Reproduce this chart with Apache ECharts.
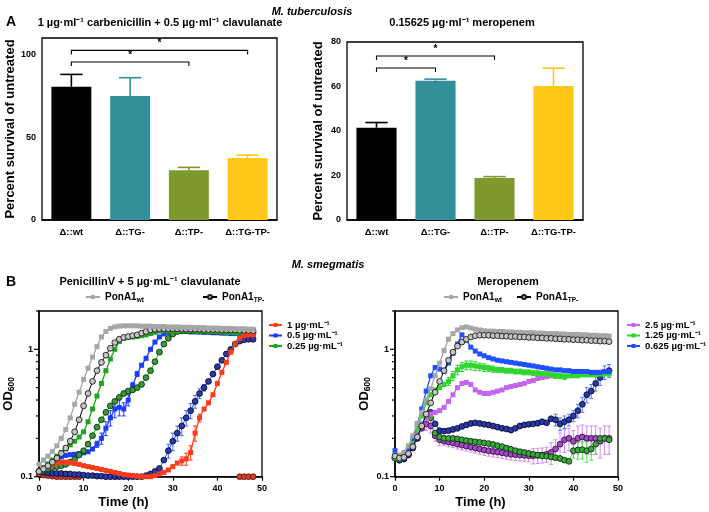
<!DOCTYPE html>
<html><head><meta charset="utf-8">
<script src="https://cdn.jsdelivr.net/npm/echarts@6/dist/echarts.min.js"></script>
<style>html,body{margin:0;padding:0;background:#fff}#c{width:709px;height:512px}</style>
</head><body><div id="c"></div>
<script>
const FONT = '"Liberation Sans", Arial, Helvetica, sans-serif';

// ---------- Panel A data ----------
const strains = ['Δ::wt', 'Δ::TG-', 'Δ::TP-', 'Δ::TG-TP-'];
const carbMean = [80.5, 75, 30, 37.5];
const carbErrTop = [88, 86, 31.8, 39.2];
const meroMean = [41.5, 62.6, 18.9, 60.2];
const meroErrTop = [43.8, 63.3, 19.5, 68.2];
const carbSig = [[0, 2, 95.5], [0, 3, 102.5]];
const meroSig = [[0, 1, 68.3], [0, 2, 73.7]];
const carbTicks = [0, 50, 100];
const meroTicks = [0, 20, 40, 60, 80];

// ---------- Panel B data ----------
const hours = [0,1,2,3,4,5,6,7,8,9,10,11,12,13,14,15,16,17,18,19,20,21,22,23,24,25,26,27,28,29,30,31,32,33,34,35,36,37,38,39,40,41,42,43,44,45,46,47,48];
const timeTicks = [0, 10, 20, 30, 40, 50];
const logMajor = [0.1, 1];
const logMinor = [0.2, 0.3, 0.4, 0.5, 0.6, 0.7, 0.8, 0.9, 2];

// Penicillin V + clavulanate
const penWtCtl = [0.125,0.135,0.145,0.158,0.175,0.2,0.235,0.29,0.37,0.46,0.58,0.71,0.87,1.05,1.25,1.38,1.46,1.5,1.52,1.53,1.53,1.53,1.53,1.52,1.52,1.52,1.51,1.51,1.51,1.5,1.5,1.5,1.49,1.49,1.49,1.48,1.48,1.48,1.47,1.47,1.47,1.46,1.46,1.46,1.45,1.45,1.45,1.44,1.44];
const penTpCtl = [0.11,0.115,0.122,0.13,0.14,0.152,0.168,0.19,0.225,0.28,0.36,0.45,0.56,0.68,0.79,0.9,1.02,1.13,1.2,1.24,1.26,1.28,1.3,1.34,1.38,1.42,1.44,1.45,1.45,1.45,1.45,1.45,1.45,1.44,1.44,1.44,1.44,1.43,1.43,1.43,1.43,1.42,1.42,1.42,1.42,1.41,1.41,1.41,1.4];
const pen1Wt = [0.11,0.115,0.12,0.125,0.128,0.13,0.13,0.129,0.127,0.125,0.122,0.12,0.118,0.116,0.114,0.112,0.11,0.108,0.106,0.104,0.103,0.102,0.101,0.1,0.1,0.1,0.102,0.105,0.108,0.113,0.12,0.128,0.133,0.138,0.155,0.22,0.29,0.34,0.38,0.44,0.54,0.66,0.79,0.95,1.1,1.22,1.28,1.3,1.3];
const pen1Tp = [0.105,0.103,0.102,0.101,0.1,0.1,0.1,0.1,0.1,0.1,0.09,0.09,0.09,0.09,0.09,0.09,0.09,0.09,0.09,0.09,0.09,0.09,0.09,0.09,0.09,0.09,0.09,0.09,0.09,0.09,0.09,0.09,0.09,0.09,0.09,0.09,0.09,0.09,0.09,0.09,0.09,0.09,0.09,0.09,0.09,0.1,0.1,0.1,0.1];
const pen05Wt = [0.11,0.118,0.125,0.132,0.138,0.143,0.147,0.149,0.15,0.152,0.154,0.157,0.165,0.18,0.2,0.24,0.29,0.34,0.35,0.34,0.4,0.52,0.64,0.75,0.85,1.0,1.14,1.25,1.32,1.36,1.38,1.38,1.38,1.38,1.37,1.37,1.37,1.36,1.36,1.35,1.35,1.34,1.34,1.33,1.33,1.32,1.31,1.31,1.3];
const pen05Tp = [0.11,0.108,0.107,0.106,0.106,0.106,0.105,0.105,0.104,0.104,0.103,0.102,0.102,0.101,0.101,0.1,0.1,0.1,0.1,0.1,0.1,0.1,0.1,0.1,0.102,0.105,0.11,0.116,0.135,0.16,0.19,0.22,0.25,0.29,0.33,0.39,0.45,0.5,0.56,0.64,0.73,0.82,0.92,1.0,1.1,1.16,1.19,1.2,1.2];
const pen025Wt = [0.11,0.118,0.126,0.135,0.145,0.155,0.165,0.178,0.19,0.205,0.225,0.27,0.34,0.43,0.54,0.68,0.84,1.0,1.15,1.22,1.24,1.25,1.26,1.28,1.3,1.33,1.36,1.39,1.4,1.4,1.4,1.4,1.4,1.4,1.4,1.39,1.39,1.39,1.38,1.38,1.38,1.37,1.36,1.36,1.35,1.34,1.33,1.33,1.32];
const pen025Tp = [0.11,0.112,0.115,0.118,0.12,0.122,0.125,0.13,0.137,0.148,0.16,0.18,0.21,0.245,0.28,0.32,0.36,0.39,0.42,0.45,0.47,0.48,0.5,0.53,0.6,0.68,0.8,0.95,1.1,1.22,1.32,1.38,1.4,1.4,1.4,1.4,1.39,1.39,1.39,1.38,1.38,1.38,1.37,1.37,1.37,1.36,1.36,1.35,1.35];
// visible error bars (SD, 0 = none visible)
const pen05WtErr = [0,0,0,0,0,0,0,0,0,0,0,0,0,0.01,0.02,0.03,0.04,0.05,0.05,0.04,0.04,0.03,0.03,0,0,0,0,0,0,0,0,0,0,0,0,0,0,0,0,0,0,0,0,0,0,0,0,0,0];
const pen05TpErr = [0,0,0,0,0,0,0,0,0,0,0,0,0,0,0,0,0,0,0,0,0,0,0,0,0,0,0,0,0,0.02,0.03,0.03,0.04,0.04,0.045,0.045,0.04,0.03,0.02,0,0,0,0,0,0,0,0,0,0];
const pen1WtErr = [0,0,0,0,0,0,0,0,0,0,0,0,0,0,0,0,0,0,0,0,0,0,0,0,0,0,0,0,0,0,0,0,0.01,0.015,0.02,0.03,0.02,0,0,0,0,0,0,0,0,0,0,0,0];

// Meropenem
const meroWtCtl = [0.148,0.148,0.155,0.175,0.21,0.26,0.32,0.4,0.49,0.62,0.78,0.98,1.2,1.33,1.42,1.48,1.5,1.47,1.44,1.42,1.4,1.39,1.39,1.38,1.38,1.37,1.37,1.36,1.36,1.35,1.35,1.35,1.34,1.34,1.33,1.33,1.33,1.32,1.32,1.31,1.31,1.31,1.3,1.3,1.29,1.29,1.28,1.28,1.27];
const meroTpCtl = [0.145,0.14,0.142,0.152,0.172,0.205,0.25,0.31,0.38,0.46,0.56,0.68,0.82,0.95,1.06,1.14,1.2,1.25,1.28,1.29,1.29,1.29,1.28,1.28,1.27,1.27,1.26,1.26,1.25,1.25,1.24,1.24,1.23,1.23,1.22,1.22,1.21,1.21,1.2,1.2,1.19,1.19,1.18,1.18,1.17,1.17,1.16,1.16,1.15];
const mero25Wt = [0.145,0.14,0.145,0.16,0.185,0.22,0.26,0.29,0.31,0.32,0.33,0.35,0.39,0.44,0.5,0.54,0.55,0.53,0.48,0.46,0.45,0.45,0.46,0.47,0.48,0.5,0.51,0.52,0.53,0.54,0.56,0.57,0.59,0.6,0.61,0.62,null,null,null,null,null,null,null,null,null,null,null,null,null];
const mero25Tp = [0.14,0.136,0.14,0.15,0.17,0.2,0.24,0.26,0.25,0.21,0.195,0.19,0.187,0.184,0.18,0.177,0.174,0.171,0.168,0.165,0.162,0.16,0.158,0.156,0.154,0.152,0.15,0.149,0.148,0.147,0.146,0.146,0.147,0.148,0.15,0.155,0.165,0.18,0.195,0.2,0.19,0.2,0.205,0.2,0.2,0.2,0.19,0.2,0.2];
const mero125Wt = [0.14,0.138,0.145,0.16,0.19,0.24,0.3,0.38,0.44,0.48,0.5,0.53,0.56,0.62,0.69,0.73,0.75,0.75,0.74,0.73,0.72,0.71,0.7,0.69,0.69,0.68,0.68,0.67,0.67,0.66,0.66,0.65,0.65,0.64,0.64,0.63,0.62,0.62,0.61,0.62,0.62,0.62,0.63,0.63,0.63,0.63,0.64,0.64,0.64];
const mero125Tp = [0.14,0.135,0.138,0.15,0.172,0.205,0.25,0.3,0.29,0.22,0.205,0.2,0.2,0.2,0.198,0.195,0.192,0.19,0.188,0.186,0.184,0.182,0.179,0.175,0.172,0.168,0.164,0.16,0.157,0.155,0.152,0.15,0.148,0.146,0.145,0.143,0.141,0.139,0.135,0.132,0.16,0.162,0.163,0.16,0.165,0.18,0.2,0.2,0.195];
const mero0625Wt = [0.16,0.145,0.15,0.165,0.2,0.26,0.34,0.47,0.62,0.72,0.7,0.67,0.78,0.93,1.1,1.3,1.18,1.04,0.97,0.92,0.89,0.86,0.84,0.82,0.81,0.8,0.79,0.78,0.77,0.76,0.75,0.74,0.73,0.72,0.71,0.7,0.69,0.69,0.68,0.68,0.67,0.67,0.67,0.67,0.66,0.66,0.66,0.67,0.67];
const mero0625Tp = [0.14,0.135,0.138,0.148,0.168,0.2,0.25,0.3,0.32,0.26,0.23,0.228,0.23,0.235,0.24,0.248,0.255,0.262,0.265,0.262,0.258,0.255,0.25,0.245,0.24,0.237,0.232,0.24,0.25,0.255,0.258,0.26,0.263,0.27,0.265,0.285,0.28,0.26,0.27,0.28,0.3,0.33,0.37,0.44,0.47,0.54,0.6,0.66,0.68];
const mero125WtErr = [0,0,0,0,0,0,0,0,0,0,0,0,0.04,0.05,0.06,0.06,0.06,0.06,0.06,0.05,0.05,0.04,0.04,0.03,0.03,0.03,0.03,0.03,0.03,0.03,0.03,0.03,0.03,0.03,0.03,0.03,0.03,0.03,0.03,0,0,0,0,0,0,0,0,0,0];
const mero25TpErr = [0,0,0,0,0,0,0,0.03,0.03,0.02,0.02,0.015,0.015,0.015,0.015,0.015,0.015,0.015,0.015,0.015,0.015,0.015,0.015,0.015,0.015,0.015,0.015,0.015,0.015,0.015,0.015,0.02,0.02,0.02,0.02,0.03,0.03,0.04,0.04,0.04,0.04,0.05,0.05,0.05,0.05,0.05,0.05,0.05,0.05];
const mero0625TpErr = [0,0,0,0,0,0,0,0,0,0,0,0,0,0,0,0,0,0,0,0,0,0,0,0,0,0,0,0,0,0,0,0,0,0,0,0,0.03,0.03,0.03,0.03,0.03,0.04,0.05,0.06,0.06,0.07,0.08,0.08,0.08];
const mero125TpErr = [0,0,0,0,0,0,0,0,0,0,0,0,0,0,0,0,0,0,0,0,0,0,0,0,0,0,0,0,0,0,0,0,0,0,0,0,0,0,0,0,0.02,0.025,0.025,0.03,0.03,0.03,0,0,0];

// ---------- styles ----------
const barColors = ['#000000', '#32909b', '#7e9a2d', '#ffc818'];

const chart = echarts.init(document.getElementById('c'), null, {renderer: 'canvas'});

const axisLineStyle = {lineStyle: {color: '#000', width: 1.5}};
const labelStyle = {color: '#000', fontFamily: FONT, fontWeight: 'bold', fontSize: 9};

function tsData(arr) {
  return hours.map((h, i) => [h, arr[i] == null ? '-' : arr[i]]);
}
function sq(name, arr, gi, color, z) {
  return {type: 'line', name, xAxisIndex: gi, yAxisIndex: gi, data: tsData(arr),
    symbol: 'rect', symbolSize: 5, showSymbol: true, clip: true, z: z || 2,
    lineStyle: {color, width: 1.3}, itemStyle: {color}, animation: false, silent: true};
}
function circ(name, arr, gi, fill, edge, lineColor, z) {
  return {type: 'line', name, xAxisIndex: gi, yAxisIndex: gi, data: tsData(arr),
    symbol: 'circle', symbolSize: 5.8, showSymbol: true, clip: true, z: z || 2,
    lineStyle: {color: lineColor, width: 1},
    itemStyle: {color: fill, borderColor: edge, borderWidth: 0.9}, animation: false, silent: true};
}
function sdBars(gi, arr, err, color, z) {
  const data = [];
  hours.forEach((h, i) => { if (err[i] > 0 && arr[i] != null) data.push([h, arr[i], err[i]]); });
  return {type: 'custom', xAxisIndex: gi, yAxisIndex: gi, silent: true, clip: true, z: z || 1, animation: false,
    data, encode: {x: 0, y: 1},
    renderItem: (p, api) => {
      const h = api.value(0), v = api.value(1), e = api.value(2);
      const lo = api.coord([h, Math.max(v - e, 0.01)]);
      const hi = api.coord([h, v + e]);
      return {type: 'group', children: [
        {type: 'line', shape: {x1: lo[0], y1: lo[1], x2: hi[0], y2: hi[1]}, style: {stroke: color, lineWidth: 1}},
        {type: 'line', shape: {x1: lo[0] - 2, y1: lo[1], x2: lo[0] + 2, y2: lo[1]}, style: {stroke: color, lineWidth: 1}},
        {type: 'line', shape: {x1: hi[0] - 2, y1: hi[1], x2: hi[0] + 2, y2: hi[1]}, style: {stroke: color, lineWidth: 1}}
      ]};
    }};
}
function logTicks(gi, values, len) {
  return {type: 'custom', xAxisIndex: gi, yAxisIndex: gi, silent: true, clip: false, z: 5,
    data: values.map(v => [0, v]), encode: {x: 0, y: 1}, animation: false,
    renderItem: (p, api) => {
      const c = api.coord([0, api.value(1)]);
      return {type: 'line', shape: {x1: c[0] - len, y1: c[1], x2: c[0], y2: c[1]},
        style: {stroke: '#000', lineWidth: 1.2}};
    }};
}
function errBars(gi, means, tops) {
  return {type: 'custom', xAxisIndex: gi, yAxisIndex: gi, silent: true, z: 4, animation: false,
    data: means.map((m, i) => [i, m, tops[i]]), encode: {x: 0, y: [1, 2]},
    renderItem: (p, api) => {
      const i = api.value(0);
      const a = api.coord([i, api.value(1)]);
      const b = api.coord([i, api.value(2)]);
      const w = api.size([1, 0])[0] * 0.19;
      const col = barColors[p.dataIndex];
      return {type: 'group', children: [
        {type: 'line', shape: {x1: a[0], y1: a[1], x2: b[0], y2: b[1]}, style: {stroke: col, lineWidth: 1.6}},
        {type: 'line', shape: {x1: b[0] - w, y1: b[1], x2: b[0] + w, y2: b[1]}, style: {stroke: col, lineWidth: 1.6}}
      ]};
    }};
}
function sigBrackets(gi, list) {
  return {type: 'custom', xAxisIndex: gi, yAxisIndex: gi, silent: true, clip: false, z: 4, animation: false,
    data: list, encode: {x: [0, 1], y: 2},
    renderItem: (p, api) => {
      const a = api.coord([api.value(0), api.value(2)]);
      const b = api.coord([api.value(1), api.value(2)]);
      return {type: 'group', children: [
        {type: 'polyline', shape: {points: [[a[0], a[1] + 4], [a[0], a[1]], [b[0], b[1]], [b[0], b[1] + 4]]},
          style: {stroke: '#000', lineWidth: 1.1, fill: null}},
        {type: 'text', x: (a[0] + b[0]) / 2, y: a[1] - 2,
          style: {text: '*', fill: '#000', font: 'bold 10px ' + FONT, align: 'center', verticalAlign: 'bottom'}}
      ]};
    }};
}

const richSub = {
  a: {fontSize: 10, fontWeight: 'bold', fontFamily: FONT, color: '#000', lineHeight: 14},
  b: {fontSize: 6.5, fontWeight: 'bold', fontFamily: FONT, color: '#000', lineHeight: 6, verticalAlign: 'bottom'}
};
function subFmt(name) {
  return name === 'PonA1wt' ? '{a|PonA1}{b|wt}' : '{a|PonA1}{b|TP-}';
}
function topLegend(name, left) {
  return {data: [name], left, top: 292, itemWidth: 14, itemHeight: 5, selectedMode: false,
    formatter: subFmt, textStyle: {rich: richSub}, padding: 0};
}
function sideLegend(names, left) {
  return {data: names, orient: 'vertical', left, top: 320, itemWidth: 13, itemHeight: 5, itemGap: 0.5,
    selectedMode: false, padding: 0,
    textStyle: {color: '#000', fontFamily: FONT, fontWeight: 'bold', fontSize: 9.5, lineHeight: 9}};
}

const catAxis = (gi) => ({type: 'category', gridIndex: gi, data: strains,
  axisLine: axisLineStyle, axisTick: {alignWithLabel: true, length: 4, lineStyle: {color: '#000', width: 1.3}},
  axisLabel: {color: '#000', fontFamily: FONT, fontWeight: 'bold', fontSize: 9.5, margin: 7, interval: 0}});
const timeAxis = (gi, pad) => ({type: 'value', gridIndex: gi, min: 0, max: 50, interval: 10,
  splitLine: {show: false}, axisLine: axisLineStyle,
  axisTick: {length: 4, customValues: timeTicks, lineStyle: {color: '#000', width: 1.2}},
  axisLabel: Object.assign({}, labelStyle, {margin: 7, customValues: timeTicks}),
  name: 'Time (h)', nameLocation: 'middle', nameGap: 19,
  nameTextStyle: {color: '#000', fontFamily: FONT, fontWeight: 'bold', fontSize: 13, padding: pad}});
const odAxis = (gi, gap) => ({type: 'log', logBase: 10, gridIndex: gi, min: 0.1, max: 2,
  splitLine: {show: false}, axisLine: axisLineStyle, axisTick: {show: false},
  axisLabel: Object.assign({}, labelStyle, {margin: 6,
    formatter: v => Math.abs(v - 0.1) < 1e-9 ? '0.1' : (Math.abs(v - 1) < 1e-9 ? '1' : '')}),
  name: '{a|OD}{b|600}', nameLocation: 'middle', nameRotate: 90, nameGap: gap,
  nameTextStyle: {rich: {
    a: {fontSize: 13, fontWeight: 'bold', fontFamily: FONT, color: '#000', lineHeight: 16},
    b: {fontSize: 8.5, fontWeight: 'bold', fontFamily: FONT, color: '#000', lineHeight: 6, verticalAlign: 'bottom'}}}});
const pctAxis = (gi, max, ticks, gap) => ({type: 'value', gridIndex: gi, min: 0, max,
  splitLine: {show: false}, axisLine: axisLineStyle,
  axisTick: {length: 4, customValues: ticks, lineStyle: {color: '#000', width: 1.3}},
  axisLabel: Object.assign({}, labelStyle, {margin: 6, customValues: ticks}),
  name: 'Percent survival of untreated', nameLocation: 'middle', nameRotate: 90, nameGap: gap,
  nameTextStyle: {color: '#000', fontFamily: FONT, fontWeight: 'bold', fontSize: 13}});

const gridBase = {show: true, borderColor: '#000', borderWidth: 1.3, backgroundColor: 'transparent'};

function txt(text, x, y, font, align) {
  return {type: 'text', x, y, silent: true,
    style: {text, fill: '#000', font, align: align || 'center', verticalAlign: 'middle'}};
}

const option = {
  animation: false,
  backgroundColor: '#fff',
  grid: [
    Object.assign({left: 42, top: 38, width: 235, height: 182}, gridBase),
    Object.assign({left: 347, top: 42, width: 236, height: 178}, gridBase),
    Object.assign({left: 39, top: 311, width: 223, height: 165.7}, gridBase),
    Object.assign({left: 395, top: 311, width: 223, height: 165.7}, gridBase)
  ],
  xAxis: [catAxis(0), catAxis(1), timeAxis(2, [0, 54, 0, 0]), timeAxis(3, [0, 52, 0, 0])],
  yAxis: [pctAxis(0, 110, carbTicks, 21), pctAxis(1, 80, meroTicks, 22), odAxis(2, 20), odAxis(3, 22)],
  legend: [
    sideLegend(['1 µg·mL⁻¹', '0.5 µg·mL⁻¹', '0.25 µg·mL⁻¹'], 268),
    sideLegend(['2.5 µg·mL⁻¹', '1.25 µg·mL⁻¹', '0.625 µg·mL⁻¹'], 626),
    topLegend('PonA1wt', 85), topLegend('PonA1TP-', 202),
    topLegend('PonA1wt', 443), topLegend('PonA1TP-', 516)
  ],
  graphic: [
    txt('M. tuberculosis', 312, 12, 'italic bold 11px ' + FONT),
    txt('A', 11, 22, 'bold 14px ' + FONT),
    txt('1 µg·ml⁻¹ carbenicillin + 0.5 µg·ml⁻¹ clavulanate', 160, 23, 'bold 11px ' + FONT),
    txt('0.15625 µg·ml⁻¹ meropenem', 462, 23, 'bold 11px ' + FONT),
    txt('M. smegmatis', 328, 265, 'italic bold 11px ' + FONT),
    txt('B', 11, 282, 'bold 14px ' + FONT),
    txt('PenicillinV + 5 µg·mL⁻¹ clavulanate', 150, 282, 'bold 11px ' + FONT),
    txt('Meropenem', 508, 282, 'bold 11px ' + FONT)
  ],
  series: [
    // Panel A
    {type: 'bar', xAxisIndex: 0, yAxisIndex: 0, barWidth: '68%', silent: true,
      data: carbMean.map((v, i) => ({value: v, itemStyle: {color: barColors[i]}}))},
    errBars(0, carbMean, carbErrTop),
    sigBrackets(0, carbSig),
    {type: 'bar', xAxisIndex: 1, yAxisIndex: 1, barWidth: '68%', silent: true,
      data: meroMean.map((v, i) => ({value: v, itemStyle: {color: barColors[i]}}))},
    errBars(1, meroMean, meroErrTop),
    sigBrackets(1, meroSig),
    // Panel B left
    sdBars(2, pen05Wt, pen05WtErr, '#1a3cff', 1),
    sdBars(2, pen05Tp, pen05TpErr, '#3a6aff', 1),
    sdBars(2, pen1Wt, pen1WtErr, '#ff3a1a', 1),
    circ('pen1Tp', pen1Tp, 2, '#d0432a', '#6b1005', '#ff3a1a', 2),
    circ('pen05Tp', pen05Tp, 2, '#2b3aa0', '#08083a', '#1a3cff', 2),
    sq('0.5 µg·mL⁻¹', pen05Wt, 2, '#1a3cff', 3),
    circ('pen025Tp', pen025Tp, 2, '#3a9a3a', '#0a300a', '#1fa61f', 3),
    sq('0.25 µg·mL⁻¹', pen025Wt, 2, '#1fa61f', 4),
    sq('1 µg·mL⁻¹', pen1Wt, 2, '#ff3a1a', 4),
    circ('PonA1TP-', penTpCtl, 2, '#c4c4c4', '#1a1a1a', '#000000', 5),
    sq('PonA1wt', penWtCtl, 2, '#a6a6a6', 6),
    logTicks(2, logMajor, 5), logTicks(2, logMinor, 3),
    // Panel B right
    sdBars(3, mero25Tp, mero25TpErr, '#d08af0', 1),
    sdBars(3, mero125Wt, mero125WtErr, '#2ed62e', 1),
    sdBars(3, mero0625Tp, mero0625TpErr, '#5a7aff', 1),
    sdBars(3, mero125Tp, mero125TpErr, '#4ee04e', 1),
    circ('mero25Tp', mero25Tp, 3, '#a24bc4', '#3a0a45', '#d08af0', 2),
    circ('mero125Tp', mero125Tp, 3, '#3aa83a', '#0a300a', '#4ee04e', 3),
    circ('mero0625Tp', mero0625Tp, 3, '#2b3aa0', '#08083a', '#2050ff', 3),
    sq('2.5 µg·mL⁻¹', mero25Wt, 3, '#c465f0', 3),
    sq('1.25 µg·mL⁻¹', mero125Wt, 3, '#2ed62e', 4),
    sq('0.625 µg·mL⁻¹', mero0625Wt, 3, '#2050ff', 4),
    sq('PonA1wt', meroWtCtl, 3, '#a6a6a6', 5),
    circ('PonA1TP-', meroTpCtl, 3, '#c4c4c4', '#1a1a1a', '#000000', 6),
    logTicks(3, logMajor, 5), logTicks(3, logMinor, 3)
  ]
};
chart.setOption(option);
</script>
</body></html>
